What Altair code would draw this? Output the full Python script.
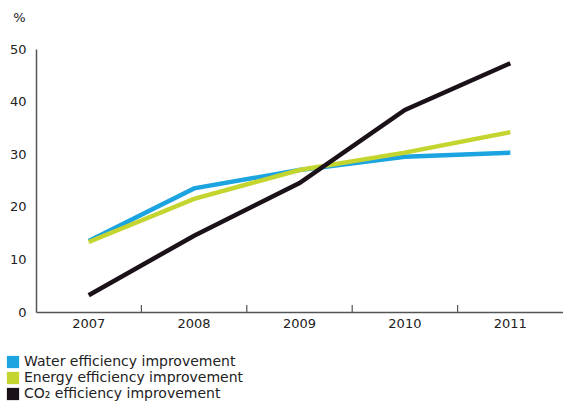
import altair as alt
import pandas as pd

years = ["2007", "2008", "2009", "2010", "2011"]
water = [13.5, 23.5, 27.0, 29.5, 30.3]
energy = [13.3, 21.5, 27.0, 30.3, 34.2]
co2 = [3.2, 14.5, 24.5, 38.4, 47.3]

series_names = [
    "Water efficiency improvement",
    "Energy efficiency improvement",
    "CO₂ efficiency improvement",
]
series_colors = ["#1ba4df", "#c4d52f", "#1b1119"]

rows = []
for name, vals in zip(series_names, [water, energy, co2]):
    for y, v in zip(years, vals):
        rows.append({"year": y, "value": v, "series": name})
df = pd.DataFrame(rows)

# interior band boundaries carry the small upward ticks on the x axis
tick_years = years[1:]
ticks_df = pd.DataFrame({"year": tick_years})

FONT = "DejaVu Sans"
AXIS_COLOR = "#555555"

x_scale = alt.Scale(domain=years, paddingInner=0, paddingOuter=0)
y_scale = alt.Scale(domain=[0, 50])
color_scale = alt.Scale(domain=series_names, range=series_colors)

x_axis = alt.Axis(
    title=None,
    ticks=False,
    grid=False,
    labelAngle=0,
    labelFont=FONT,
    labelFontSize=13,
    labelColor="#222222",
    labelPadding=5,
    domainColor=AXIS_COLOR,
    domainWidth=1.5,
    orient="bottom",
)
y_axis = alt.Axis(
    title="%",
    titleAngle=0,
    titleX=-17,
    titleY=-32,
    titleAlign="center",
    titleBaseline="middle",
    titleFont=FONT,
    titleFontSize=13,
    titleFontWeight="normal",
    titleColor="#222222",
    values=[0, 10, 20, 30, 40, 50],
    ticks=False,
    tickSize=0,
    labelPadding=10,
    labelFont=FONT,
    labelFontSize=13,
    labelColor="#222222",
    domainColor=AXIS_COLOR,
    domainWidth=1.5,
    grid=False,
)

legend = alt.Legend(
    title=None,
    orient="none",
    legendX=-30,
    legendY=306,
    symbolType="square",
    symbolSize=150,
    symbolStrokeWidth=0,
    symbolOpacity=1,
    labelFont=FONT,
    labelFontSize=14,
    labelColor="#222222",
    labelOffset=4,
    labelLimit=400,
    rowPadding=2,
    padding=0,
)

# invisible filled squares: they only supply the solid legend swatches
swatches = (
    alt.Chart(df)
    .mark_square(size=0, opacity=0, filled=True)
    .encode(
        x=alt.X("year:O", scale=x_scale, axis=x_axis),
        y=alt.Y("value:Q", scale=y_scale, axis=y_axis),
        color=alt.Color("series:N", scale=color_scale, legend=legend),
    )
)

ticks = (
    alt.Chart(ticks_df)
    .mark_rule(color=AXIS_COLOR, strokeWidth=1.2)
    .encode(
        x=alt.X("year:O", scale=x_scale, bandPosition=0, axis=x_axis),
        y=alt.value(263),
        y2=alt.value(256),
    )
)


def series_line(name):
    return (
        alt.Chart(df)
        .transform_filter(alt.datum.series == name)
        .mark_line(strokeWidth=4.5)
        .encode(
            x=alt.X("year:O", scale=x_scale, axis=x_axis),
            y=alt.Y("value:Q", scale=y_scale, axis=y_axis),
            color=alt.Color("series:N", scale=color_scale, legend=None),
        )
    )


lines = [series_line(n) for n in series_names]

chart = (
    alt.layer(swatches, *lines, ticks)
    .properties(
        width=527,
        height=263,
        autosize=alt.AutoSizeParams(type="none"),
        padding={"left": 36, "top": 49, "right": 0, "bottom": 92},
    )
    .configure(background="white")
    .configure_view(strokeWidth=0, stroke="transparent")
)

chart.save("out.html", embed_options={"renderer": "svg", "actions": False})
